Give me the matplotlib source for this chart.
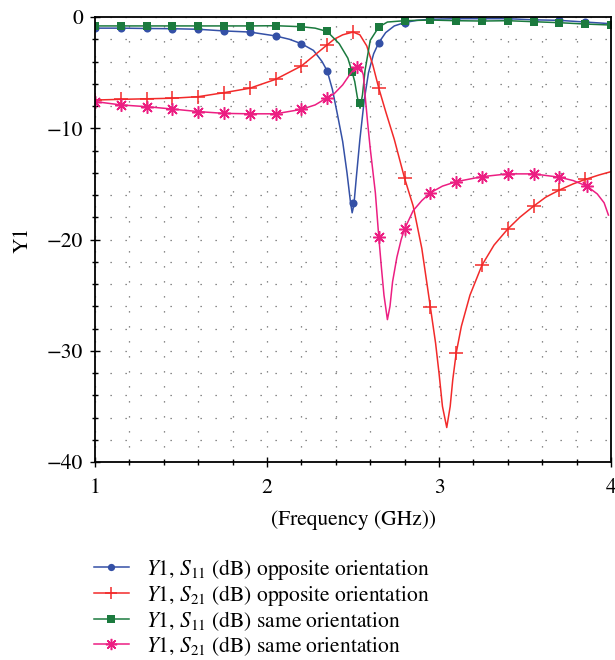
import numpy as np
import matplotlib
matplotlib.use("Agg")
import matplotlib.pyplot as plt
from matplotlib.lines import Line2D
from matplotlib.ticker import MultipleLocator

plt.rcParams["font.family"] = ["STIXGeneral", "DejaVu Serif"]
plt.rcParams["mathtext.fontset"] = "stix"

# ── curve data (frequency in GHz, Y1 in dB) ──
s11_opp_f = [1.0, 1.15, 1.3, 1.45, 1.6, 1.75, 1.9, 2.05, 2.13, 2.2, 2.27, 2.32, 2.35, 2.38,
             2.41, 2.44, 2.465, 2.485, 2.495, 2.505, 2.52, 2.54, 2.565, 2.59, 2.62, 2.65,
             2.69, 2.74, 2.8, 2.87, 2.95, 3.1, 3.25, 3.4, 3.55, 3.7, 3.85, 4.0]
s11_opp_y = [-1.0, -1.0, -1.03, -1.05, -1.1, -1.25, -1.35, -1.7, -2.0, -2.4, -3.0, -4.0, -4.85, -6.5,
             -8.8, -11.2, -14.0, -16.6, -17.6, -16.9, -14.3, -11.0, -7.5, -5.0, -3.3, -2.3,
             -1.4, -0.8, -0.5, -0.3, -0.2, -0.15, -0.15, -0.15, -0.25, -0.3, -0.45, -0.6]
s11_opp_mf = [1.0, 1.15, 1.3, 1.45, 1.6, 1.75, 1.9, 2.05, 2.2, 2.35, 2.5, 2.65, 2.8,
              2.95, 3.1, 3.25, 3.4, 3.55, 3.7, 3.85, 4.0]
s11_opp_my = [-1.0, -1.0, -1.03, -1.05, -1.1, -1.25, -1.35, -1.7, -2.4, -4.85, -16.7, -2.3, -0.5,
              -0.2, -0.15, -0.15, -0.15, -0.25, -0.3, -0.45, -0.6]

s21_opp_f = [1.0, 1.15, 1.3, 1.45, 1.6, 1.75, 1.9, 2.05, 2.2, 2.35, 2.39, 2.44, 2.5, 2.54,
             2.58, 2.615, 2.65, 2.69, 2.74, 2.8, 2.85, 2.9, 2.95, 2.98, 3.0, 3.02, 3.045,
             3.065, 3.08, 3.1, 3.13, 3.18, 3.25, 3.32, 3.4, 3.47, 3.55, 3.62, 3.7, 3.78,
             3.85, 3.93, 4.0]
s21_opp_y = [-7.46, -7.4, -7.35, -7.3, -7.16, -6.8, -6.4, -5.6, -4.4, -2.5, -2.0, -1.6, -1.35, -1.6,
             -2.6, -4.3, -6.4, -8.5, -11.0, -14.5, -17.0, -20.8, -26.1, -29.3, -32.0, -35.0, -36.9,
             -35.0, -32.6, -30.2, -27.8, -25.0, -22.3, -20.5, -19.05, -18.0, -17.0, -16.2, -15.55, -15.0,
             -14.6, -14.2, -13.9]
s21_opp_mf = [1.0, 1.15, 1.3, 1.45, 1.6, 1.75, 1.9, 2.05, 2.2, 2.35, 2.5, 2.65, 2.8,
              2.95, 3.1, 3.25, 3.4, 3.55, 3.7, 3.85]
s21_opp_my = [-7.46, -7.4, -7.35, -7.3, -7.16, -6.8, -6.4, -5.6, -4.4, -2.5, -1.35, -6.4, -14.5,
              -26.1, -30.2, -22.3, -19.05, -17.0, -15.55, -14.6]

s11_same_f = [1.0, 1.15, 1.3, 1.45, 1.6, 1.75, 1.9, 2.05, 2.2, 2.28, 2.35, 2.42, 2.47, 2.494,
              2.51, 2.525, 2.541, 2.555, 2.57, 2.6, 2.65, 2.7, 2.8, 2.95, 3.1, 3.25,
              3.4, 3.55, 3.7, 3.85, 4.0]
s11_same_y = [-0.8, -0.8, -0.8, -0.8, -0.8, -0.8, -0.8, -0.78, -0.87, -1.0, -1.3, -2.4, -3.7, -4.9,
              -5.8, -7.2, -8.2, -7.0, -4.8, -2.1, -0.9, -0.45, -0.33, -0.27, -0.33, -0.36,
              -0.33, -0.42, -0.51, -0.63, -0.72]
s11_same_mf = [1.0, 1.15, 1.3, 1.45, 1.6, 1.75, 1.9, 2.05, 2.2, 2.35, 2.494, 2.541, 2.65,
               2.8, 2.95, 3.1, 3.25, 3.4, 3.55, 3.7, 3.85, 4.0]
s11_same_my = [-0.8, -0.8, -0.8, -0.8, -0.8, -0.8, -0.8, -0.78, -0.87, -1.3, -4.9, -7.7, -0.9,
               -0.33, -0.27, -0.33, -0.36, -0.33, -0.42, -0.51, -0.63, -0.72]

s21_same_f = [1.0, 1.15, 1.3, 1.45, 1.6, 1.75, 1.9, 2.05, 2.2, 2.28, 2.35, 2.39, 2.44, 2.48,
              2.51, 2.523, 2.545, 2.56, 2.57, 2.585, 2.6, 2.615, 2.63, 2.65, 2.665, 2.68,
              2.70, 2.715, 2.73, 2.755, 2.78, 2.8, 2.85, 2.9, 2.95, 3.02, 3.1, 3.25, 3.4,
              3.55, 3.7, 3.78, 3.86, 3.92, 3.96, 3.985]
s21_same_y = [-7.6, -7.9, -8.06, -8.27, -8.5, -8.66, -8.7, -8.7, -8.3, -7.9, -7.25, -6.9, -6.1, -5.2,
              -4.6, -4.45, -4.5, -5.2, -7.0, -9.5, -11.8, -13.8, -15.8, -19.8, -22.5, -25.0,
              -27.2, -26.0, -23.8, -21.6, -20.0, -19.05, -17.4, -16.5, -15.8, -15.2, -14.8, -14.35, -14.1,
              -14.1, -14.4, -14.7, -15.2, -15.9, -16.7, -17.8]
s21_same_mf = [1.0, 1.15, 1.3, 1.45, 1.6, 1.75, 1.9, 2.05, 2.2, 2.35, 2.523, 2.65, 2.8,
               2.95, 3.1, 3.25, 3.4, 3.55, 3.7, 3.86]
s21_same_my = [-7.6, -7.9, -8.06, -8.27, -8.5, -8.66, -8.7, -8.7, -8.3, -7.25, -4.45, -19.8, -19.05,
               -15.8, -14.8, -14.35, -14.1, -14.1, -14.4, -15.2]

labels = [r"$Y$1, $S_{11}$ (dB) opposite orientation",
          r"$Y$1, $S_{21}$ (dB) opposite orientation",
          r"$Y$1, $S_{11}$ (dB) same orientation",
          r"$Y$1, $S_{21}$ (dB) same orientation"]

#%%
fig = plt.figure(figsize=(6.15, 6.6), dpi=100)
ax = fig.add_axes([0.1545, 0.3, 0.839, 0.6742])

styles = [
    dict(color="#3450a6", marker="o", ms=5.8, mew=0),
    dict(color="#f22a2a", marker="+", ms=10, mew=1.1),
    dict(color="#1b7a3e", marker="s", ms=5.8, mew=0),
    dict(color="#ec1e82", marker=(8, 2, 0), ms=9, mew=1.1),
]
series = [
    (s11_opp_f, s11_opp_y, s11_opp_mf, s11_opp_my),
    (s21_opp_f, s21_opp_y, s21_opp_mf, s21_opp_my),
    (s11_same_f, s11_same_y, s11_same_mf, s11_same_my),
    (s21_same_f, s21_same_y, s21_same_mf, s21_same_my),
]

handles = []
for (xf, yf, xm, ym), st, lab in zip(series, styles, labels):
    ax.plot(xf, yf, color=st["color"], lw=1.1)
    ax.plot(xm, ym, ls="none", color=st["color"], marker=st["marker"],
            ms=st["ms"], mew=st["mew"])
    handles.append(Line2D([], [], color=st["color"], lw=1.1, marker=st["marker"],
                          ms=st["ms"] * 0.9, mew=st["mew"], label=lab))

ax.set_xlim(1, 4)
ax.set_ylim(-40, 0)
ax.xaxis.set_major_locator(MultipleLocator(1))
ax.xaxis.set_minor_locator(MultipleLocator(0.2))
ax.yaxis.set_major_locator(MultipleLocator(10))
ax.yaxis.set_minor_locator(MultipleLocator(2))

ax.grid(which="both", color="#666666", lw=0.9, ls=(0, (1, 11)))
ax.set_axisbelow(True)

ax.tick_params(which="major", direction="inout", length=7, width=1.0, labelsize=15.5, pad=5)
ax.tick_params(which="minor", direction="inout", length=5, width=1.0)
ax.tick_params(axis="x", which="major", pad=8)
for sp in ax.spines.values():
    sp.set_linewidth(1.3)

ax.set_ylabel("Y1", fontsize=15.5, labelpad=10)
ax.set_xlabel("(Frequency (GHz))", fontsize=15.5, labelpad=9)

fig.legend(handles=handles, loc="upper left", bbox_to_anchor=(0.135, 0.173),
           frameon=False, fontsize=15.5, handlelength=1.63, handletextpad=0.8,
           labelspacing=0.06, borderpad=0, numpoints=1)

fig.savefig("out.png", dpi=100)
